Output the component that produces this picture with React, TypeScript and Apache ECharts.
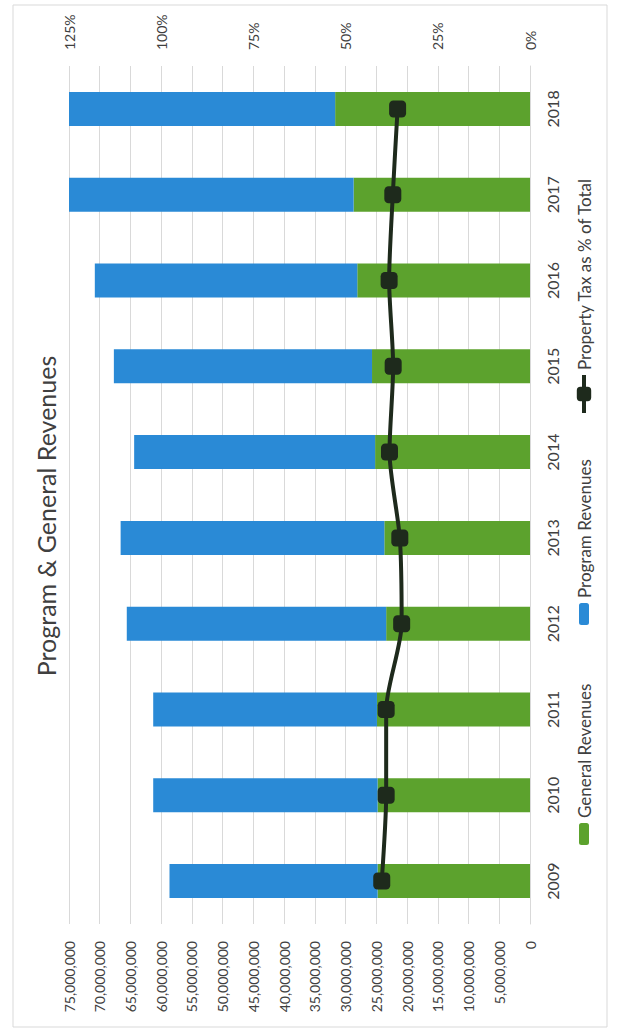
import React, { useEffect, useRef } from "react";
import * as echarts from "echarts";

const years = ["2009", "2010", "2011", "2012", "2013", "2014", "2015", "2016", "2017", "2018"];
const generalRevenues = [24.8e6, 24.8e6, 24.9e6, 23.4e6, 23.7e6, 25.2e6, 25.7e6, 28.1e6, 28.7e6, 31.7e6];
const programRevenues = [33.85e6, 36.5e6, 36.4e6, 42.2e6, 42.9e6, 39.2e6, 42.0e6, 42.7e6, 46.3e6, 43.3e6];
const propertyTaxPct = [40.2, 39.0, 39.0, 34.8, 35.3, 38.1, 37.1, 38.2, 37.2, 35.9];

const valueAxisMax = 75000000;
const valueAxisStep = 5000000;
const pctAxisMax = 125;
const pctAxisStep = 25;

const TEXT = "#404040";
const GRID = "#d9d9d9";
const GREEN = "#5ca22d";
const BLUE = "#2a8ad6";
const DARK = "#1e2a1c";
const FONT = "Lato";

export default function App() {
  const ref = useRef<HTMLDivElement>(null);

  useEffect(() => {
    if (!ref.current) return;
    const chart = echarts.init(ref.current, undefined, { renderer: "svg", width: 1032, height: 618 });
    const legendText = { fontSize: 17, color: TEXT, fontFamily: FONT, lineHeight: 20 };
    chart.setOption({
      animation: false,
      backgroundColor: "#ffffff",
      textStyle: { fontFamily: FONT },
      title: {
        text: "Program & General Revenues",
        left: "center",
        top: 31,
        padding: 0,
        textStyle: { fontSize: 25, fontWeight: "normal", color: TEXT, fontFamily: FONT, lineHeight: 30 },
      },
      graphic: [
        {
          type: "rect",
          shape: { x: 5, y: 13, width: 1022, height: 594 },
          style: { fill: "none", stroke: GRID, lineWidth: 1 },
          silent: true,
        },
      ],
      legend: [
        {
          data: ["General Revenues"],
          left: 187,
          top: 574,
          padding: 0,
          itemWidth: 22,
          itemHeight: 10,
          textStyle: legendText,
        },
        {
          data: ["Program Revenues"],
          left: 407,
          top: 574,
          padding: 0,
          itemWidth: 22,
          itemHeight: 10,
          textStyle: legendText,
        },
        {
          data: ["Property Tax as % of Total"],
          left: 617,
          top: 574,
          padding: 0,
          itemWidth: 38,
          itemHeight: 18,
          lineStyle: { width: 4, color: DARK },
          itemStyle: { color: DARK },
          textStyle: legendText,
        },
      ],
      grid: { left: 108, right: 66, top: 69, bottom: 88, containLabel: false },
      xAxis: {
        type: "category",
        data: years,
        axisLine: { show: true, lineStyle: { color: GRID } },
        axisTick: { show: false },
        axisLabel: { fontSize: 16, color: TEXT, margin: 14, lineHeight: 16, fontFamily: FONT },
      },
      yAxis: [
        {
          type: "value",
          position: "left",
          min: 0,
          max: valueAxisMax,
          interval: valueAxisStep,
          axisLine: { show: false },
          axisTick: { show: false },
          splitLine: { show: true, lineStyle: { color: GRID, width: 1 } },
          axisLabel: {
            fontSize: 14,
            color: TEXT,
            margin: 17,
            fontFamily: FONT,
            formatter: (v: number) => v.toLocaleString("en-US"),
          },
        },
        {
          type: "value",
          position: "right",
          min: 0,
          max: pctAxisMax,
          interval: pctAxisStep,
          axisLine: { show: false },
          axisTick: { show: false },
          splitLine: { show: false },
          axisLabel: {
            fontSize: 14,
            color: TEXT,
            margin: 16,
            fontFamily: FONT,
            formatter: (v: number) => `${v}%`,
          },
        },
      ],
      series: [
        {
          name: "General Revenues",
          type: "bar",
          stack: "rev",
          barWidth: 34,
          itemStyle: { color: GREEN },
          data: generalRevenues,
        },
        {
          name: "Program Revenues",
          type: "bar",
          stack: "rev",
          barWidth: 34,
          itemStyle: { color: BLUE },
          data: programRevenues,
        },
        {
          name: "Property Tax as % of Total",
          type: "line",
          yAxisIndex: 1,
          smooth: 0.25,
          symbol: "roundRect",
          symbolSize: 17,
          itemStyle: { color: DARK },
          lineStyle: { color: DARK, width: 4 },
          data: propertyTaxPct,
          z: 5,
        },
      ],
    });
    return () => chart.dispose();
  }, []);

  return (
    <div
      style={{
        position: "absolute",
        left: 0,
        top: 0,
        width: 618,
        height: 1032,
        overflow: "hidden",
        background: "#ffffff",
      }}
    >
      <div
        ref={ref}
        style={{
          position: "absolute",
          left: 0,
          top: 0,
          width: 1032,
          height: 618,
          transformOrigin: "0 0",
          transform: "translate(0px, 1032px) rotate(-90deg)",
        }}
      />
    </div>
  );
}
